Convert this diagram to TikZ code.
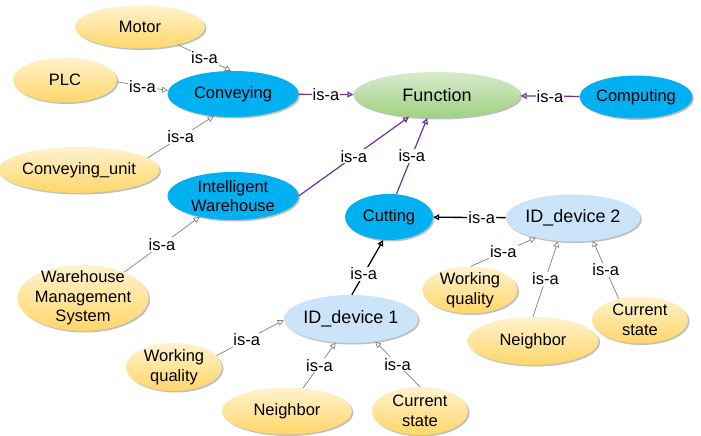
\documentclass[tikz,border=0pt]{standalone}
\usepackage{fontspec}
\setmainfont{Liberation Sans}
\usetikzlibrary{shapes.geometric,arrows.meta,shadows}

\definecolor{funcblue}{RGB}{0,176,240}
\definecolor{devblue}{RGB}{204,228,250}
\definecolor{partlight}{RGB}{255,242,205}
\definecolor{partdark}{RGB}{255,214,105}
\definecolor{rootlight}{RGB}{216,234,206}
\definecolor{rootdark}{RGB}{158,210,128}
\definecolor{isapurple}{RGB}{112,48,160}

\begin{document}
\begin{tikzpicture}[x=1pt,y=-1pt,
    font=\fontsize{16.5}{19.5}\selectfont,
    concept/.style={ellipse, inner sep=0pt, align=center,
        drop shadow={shadow xshift=1.5pt,shadow yshift=-1.5pt,fill=black,opacity=.25}},
    part/.style={concept, top color=partlight, bottom color=partdark},
    func/.style={concept, fill=funcblue},
    device/.style={concept, fill=devblue, font=\fontsize{18}{20}\selectfont},
    root/.style={concept, top color=rootlight, bottom color=rootdark, font=\fontsize{18}{20}\selectfont},
    twoline/.style={inner ysep=-2.5pt},
    isa/.style={draw=black!50, line width=0.7pt, -{Triangle[open,length=6pt,width=6pt]}},
    isapurple/.style={draw=isapurple, line width=1.2pt, -{Triangle[open,length=6pt,width=6pt]}},
    isablack/.style={draw=black, line width=1.3pt, -{Triangle[open,length=6pt,width=6pt]}},
    lbl/.style={fill=white, inner sep=1pt}]
    \useasboundingbox (0,0) rectangle (701,436);

    % upper part
    \node[part, minimum width=130, minimum height=43] (motor) at (140,27) {Motor};
    \node[part, minimum width=104, minimum height=45] (plc) at (65,80) {PLC};
    \node[part, minimum width=138, minimum height=46] (convunit) at (79,170) {Conveying\_unit};
    \node[func, minimum width=131, minimum height=46] (conv) at (233,94) {Conveying};
    \node[func, twoline, minimum width=131, minimum height=48] (iware) at (233,196) {Intelligent\\Warehouse};
    \node[part, inner xsep=-3pt, inner ysep=-6pt, minimum width=131, minimum height=66] (wms) at (83,298) {Warehouse\\Management\\System};
    \node[root, minimum width=167, minimum height=46] (func) at (437,95) {Function};
    \node[func, minimum width=105, minimum height=43] (comp) at (636,97) {Computing};
    \node[func, minimum width=88, minimum height=46] (cut) at (389,217) {Cutting};

    % devices
    \node[device, minimum width=131, minimum height=47] (dev2) at (573,218) {ID\_device 2};
    \node[part, twoline, minimum width=95, minimum height=47] (wq2) at (470,290) {Working\\quality};
    \node[part, minimum width=131, minimum height=48] (nb2) at (533,341) {Neighbor};
    \node[part, twoline, minimum width=96, minimum height=47] (cs2) at (640,320) {Current\\state};
    \node[device, minimum width=132, minimum height=48] (dev1) at (351,319) {ID\_device 1};
    \node[part, twoline, minimum width=96, minimum height=48] (wq1) at (174,367) {Working\\quality};
    \node[part, minimum width=130, minimum height=47] (nb1) at (287,411) {Neighbor};
    \node[part, twoline, minimum width=96, minimum height=48] (cs1) at (420,411) {Current\\state};

    \draw[isa] (motor.335) -- node[lbl] {is-a} (conv.95);
    \draw[isa] (plc.358) -- node[lbl] {is-a} (conv.177);
    \draw[isa] (convunit.10) -- node[lbl] {is-a} (conv.229);
    \draw[isa] (wms.32) -- node[lbl] {is-a} (iware.212);
    \draw[isapurple] (conv) -- node[lbl] {is-a} (func);
    \draw[isapurple] (comp) -- node[lbl] {is-a} (func);
    \draw[isapurple] (iware.0) -- node[lbl] {is-a} (func.218);
    \draw[isapurple] (cut.72) -- node[lbl] {is-a} (func.247);
    \draw[isablack] (dev2) -- node[lbl, pos=.33] {is-a} (cut);
    \draw[isablack] (dev1.88) -- node[lbl, pos=.38] {is-a} (cut.256);

    \draw[isa] (wq2.88) -- node[lbl] {is-a} (dev2.208);
    \draw[isa] (nb2.90) -- node[lbl] {is-a} (dev2.237);
    \draw[isa] (cs2.135) -- node[lbl] {is-a} (dev2.311);
    \draw[isa] (wq1.15) -- node[lbl, pos=.45] {is-a} (dev1.181);
    \draw[isa] (nb1.55) -- node[lbl] {is-a} (dev1.237);
    \draw[isa] (cs1.90) -- node[lbl] {is-a} (dev1.317);
\end{tikzpicture}
\end{document}
